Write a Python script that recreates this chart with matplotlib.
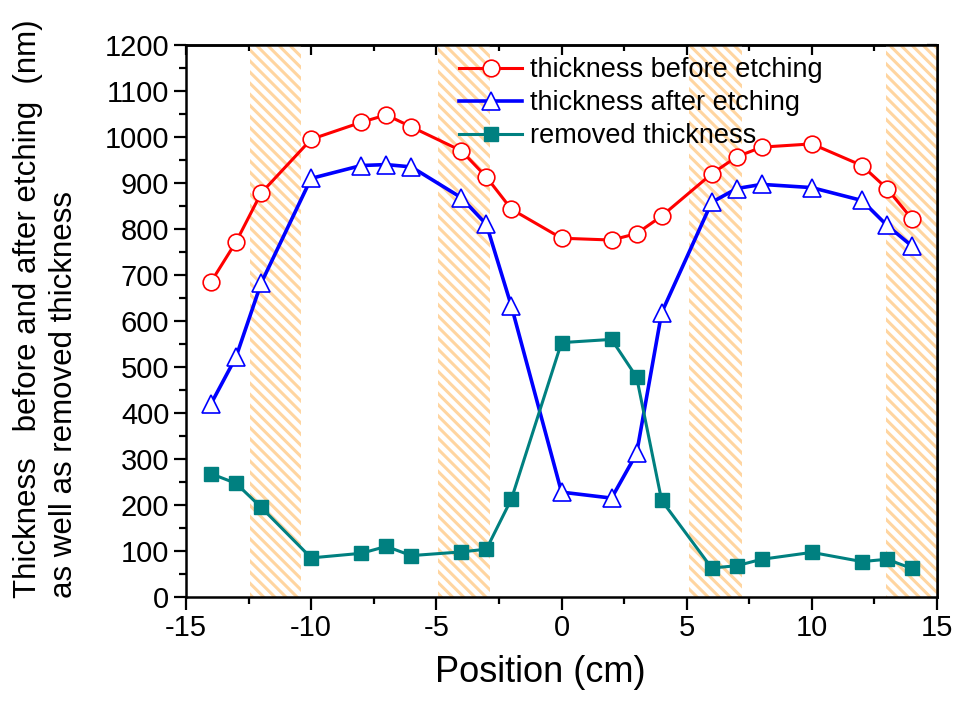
import matplotlib
matplotlib.use('Agg')
import matplotlib.pyplot as plt
from matplotlib.ticker import MultipleLocator

plt.rcParams['font.family'] = ['Liberation Sans', 'DejaVu Sans']
plt.rcParams['hatch.linewidth'] = 2.2
plt.rcParams['axes.unicode_minus'] = False

# positions (cm)
position = [-14, -13, -12, -10, -8, -7, -6, -4, -3, -2, 0, 2, 3, 4, 6, 7, 8, 10, 12, 13, 14]
before = [685, 772, 878, 995, 1032, 1048, 1022, 970, 913, 843, 780, 776, 790, 828,
          920, 957, 978, 985, 938, 888, 822]
after = [420, 522, 682, 910, 938, 940, 935, 868, 810, 632, 228, 215, 312, 618,
         858, 888, 897, 890, 862, 808, 763]
removed = [268, 247, 195, 85, 95, 110, 90, 98, 104, 213, 553, 560, 478, 210,
           63, 68, 82, 97, 77, 82, 62]

# shaded (hatched) bands
bands = [(-12.45, -10.4), (-4.95, -2.85), (5.1, 7.2), (12.95, 15.0)]

fig = plt.figure(figsize=(9.6, 7.02), dpi=100)
ax = fig.add_axes([186 / 960, 1 - 597 / 702, (937 - 186) / 960, (597 - 45) / 702])

for x0, x1 in bands:
    ax.axvspan(x0, x1, facecolor='white', edgecolor='#FFD5A0', hatch='\\\\\\',
               linewidth=0, zorder=1)

ax.plot(position, before, '-o', color='#FF0000', lw=2.2, ms=12, mfc='white',
        mec='#FF0000', mew=1.2, label='thickness before etching', zorder=3)
ax.plot(position, after, '-^', color='#0000FF', lw=2.6, ms=13, mfc='white',
        mec='#0000FF', mew=1.2, label='thickness after etching', zorder=3)
ax.plot(position, removed, '-s', color='#008080', lw=2.2, ms=10, mfc='#008080',
        mec='#008080', label='removed thickness', zorder=3)

ax.set_xlim(-15, 15)
ax.set_ylim(0, 1200)
ax.xaxis.set_major_locator(MultipleLocator(5))
ax.xaxis.set_minor_locator(MultipleLocator(2.5))
ax.yaxis.set_major_locator(MultipleLocator(100))
ax.yaxis.set_minor_locator(MultipleLocator(50))

for s in ax.spines.values():
    s.set_linewidth(1.8)
ax.tick_params(which='major', direction='out', length=9, width=1.6, labelsize=21, pad=3)
ax.tick_params(which='minor', direction='out', length=5, width=1.6)

top = ax.secondary_xaxis('top')
top.xaxis.set_major_locator(MultipleLocator(5))
top.xaxis.set_minor_locator(MultipleLocator(2.5))
top.tick_params(which='major', direction='in', length=7, width=1.6, labeltop=False)
top.tick_params(which='minor', direction='in', length=4, width=1.6)
right = ax.secondary_yaxis('right')
right.yaxis.set_major_locator(MultipleLocator(100))
right.yaxis.set_minor_locator(MultipleLocator(50))
right.tick_params(which='major', direction='in', length=7, width=1.6, labelright=False)
right.tick_params(which='minor', direction='in', length=4, width=1.6)
for sec in (top, right):
    for s in sec.spines.values():
        s.set_linewidth(1.8)

ax.set_xlabel('Position (cm)', fontsize=26)
ax.xaxis.set_label_coords(0.472, -0.105)
fig.text(0.048, 1 - 598 / 702, 'Thickness   before and after etching  (nm)\n'
         'as well as removed thickness', rotation=90, fontsize=22.5,
         ha='center', va='bottom', multialignment='left', linespacing=1.25)

ax.legend(loc='upper left', bbox_to_anchor=(0.364, 0.978), frameon=False, fontsize=19.5,
          handlelength=2.3, handletextpad=0.3, labelspacing=0.26, borderpad=0,
          borderaxespad=0)

fig.savefig('out.png', dpi=100)
